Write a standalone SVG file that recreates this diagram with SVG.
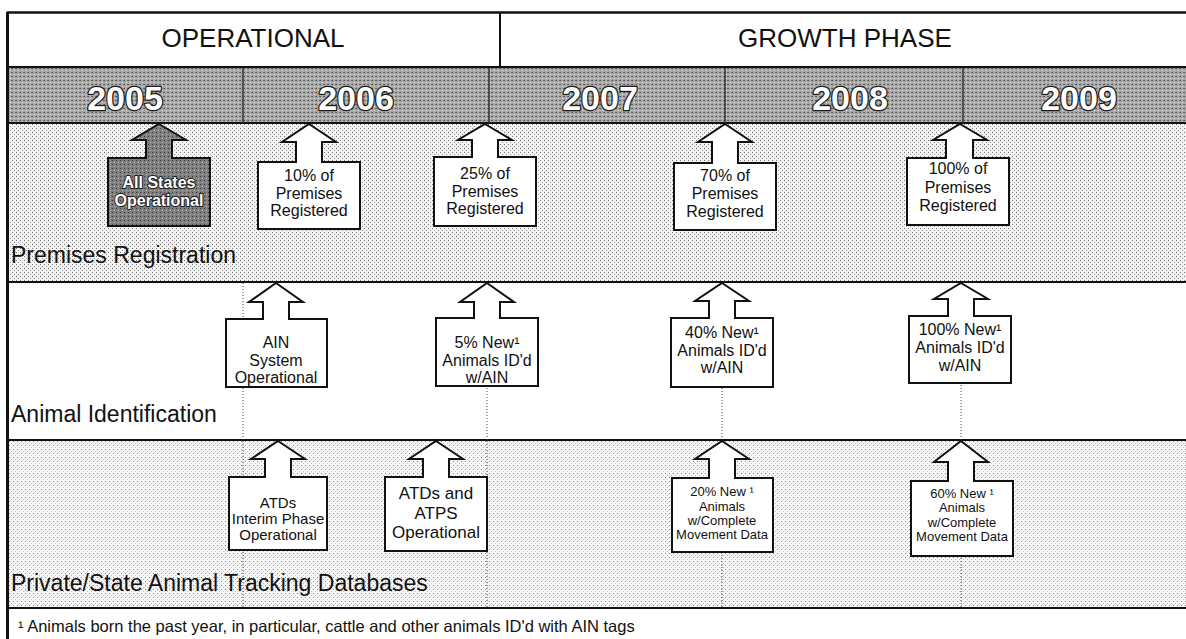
<svg xmlns="http://www.w3.org/2000/svg" width="1186" height="639" viewBox="0 0 1186 639">
<defs>
<pattern id="dotsA" width="4" height="4" patternUnits="userSpaceOnUse"><rect width="4" height="4" fill="#f3f3f3"/><rect x="0" y="0" width="1" height="1" fill="#777"/><rect x="2" y="2" width="1" height="1" fill="#999"/></pattern>
<pattern id="dotsB" width="4" height="4" patternUnits="userSpaceOnUse"><rect width="4" height="4" fill="#f6f6f6"/><rect x="1" y="1" width="1" height="1" fill="#8a8a8a"/><rect x="3" y="3" width="1" height="1" fill="#c4c4c4"/></pattern>
<pattern id="band" width="4" height="4" patternUnits="userSpaceOnUse"><rect width="4" height="4" fill="#a8a8a8"/><rect x="0" y="0" width="1" height="1" fill="#555"/><rect x="2" y="2" width="1" height="1" fill="#e4e4e4"/><rect x="3" y="0" width="1" height="1" fill="#6a6a6a"/></pattern>
<pattern id="dark" width="4" height="4" patternUnits="userSpaceOnUse"><rect width="4" height="4" fill="#7f7f7f"/><rect x="0" y="0" width="1" height="1" fill="#3a3a3a"/><rect x="2" y="2" width="1" height="1" fill="#bdbdbd"/></pattern>
</defs>
<style>
.t{font-family:"Liberation Sans",Arial,sans-serif;fill:#111;text-anchor:middle}
.hdr{font-size:26px}
.yr{font-size:34px;font-weight:bold;fill:#fff;stroke:#1a1a1a;stroke-width:2.5px;paint-order:stroke;stroke-linejoin:round}
.lbl{font-family:"Liberation Sans",Arial,sans-serif;fill:#111;font-size:23px}
.b16{font-size:16px}
.b15{font-size:15px}
.b17{font-size:17px}
.b13{font-size:13px}
.co{fill:#fff;stroke:#111;stroke-width:2;stroke-linejoin:miter}
.inv{font-size:16px;font-weight:bold;fill:#fff;stroke:#222;stroke-width:2px;paint-order:stroke}
.guide{stroke:#444;stroke-width:1;stroke-dasharray:1 2;fill:none}
.frame{stroke:#111;fill:none}
</style>

<!-- backgrounds -->
<rect x="7" y="12" width="1179" height="55" fill="#fff"/>
<rect x="7" y="68" width="1179" height="55" fill="url(#band)"/>
<rect x="7" y="123" width="1179" height="159" fill="url(#dotsA)"/>
<rect x="7" y="282" width="1179" height="158" fill="#fff"/>
<rect x="7" y="440" width="1179" height="168" fill="url(#dotsB)"/>
<rect x="7" y="608" width="1179" height="31" fill="#fff"/>

<!-- frame lines -->
<g class="frame">
<line x1="7" y1="12.5" x2="1186" y2="12.5" stroke-width="2.5"/>
<line x1="7" y1="67" x2="1186" y2="67" stroke-width="2"/>
<line x1="7" y1="123" x2="1186" y2="123" stroke-width="2"/>
<line x1="7" y1="282" x2="1186" y2="282" stroke-width="2"/>
<line x1="7" y1="440" x2="1186" y2="440" stroke-width="2"/>
<line x1="7" y1="608" x2="1186" y2="608" stroke-width="2"/>
<line x1="7.5" y1="12" x2="7.5" y2="639" stroke-width="3"/>
<line x1="500" y1="12" x2="500" y2="67" stroke-width="2"/>
<g stroke="#333" stroke-width="1.5">
<line x1="243" y1="68" x2="243" y2="123"/>
<line x1="489" y1="68" x2="489" y2="123"/>
<line x1="725" y1="68" x2="725" y2="123"/>
<line x1="963" y1="68" x2="963" y2="123"/>
</g>
</g>

<!-- header -->
<g id="phase-operational"><text class="t hdr" x="253" y="47">OPERATIONAL</text></g>
<g id="phase-growth"><text class="t hdr" x="845" y="47">GROWTH PHASE</text></g>

<!-- years -->
<g id="years">
<text class="t yr" x="125" y="110">2005</text>
<text class="t yr" x="356" y="110">2006</text>
<text class="t yr" x="600" y="110">2007</text>
<text class="t yr" x="850" y="110">2008</text>
<text class="t yr" x="1079" y="110">2009</text>
</g>

<!-- guide lines -->
<g id="connectors">
<line class="guide" x1="243" y1="283" x2="243" y2="440"/>
<line class="guide" x1="487" y1="283" x2="487" y2="440"/>
<line class="guide" x1="722" y1="283" x2="722" y2="440"/>
<line class="guide" x1="961" y1="283" x2="961" y2="440"/>
<line class="guide" x1="243" y1="441" x2="243" y2="608"/>
<line class="guide" x1="487" y1="441" x2="487" y2="608"/>
<line class="guide" x1="722" y1="441" x2="722" y2="608"/>
<line class="guide" x1="961" y1="441" x2="961" y2="608"/>
</g>

<!-- row labels -->
<g id="row-premises"><text class="lbl" x="11" y="263">Premises Registration</text></g>
<g id="row-animal-id"><text class="lbl" x="11" y="422">Animal Identification</text></g>
<g id="row-tracking"><text class="lbl" x="11" y="591">Private/State Animal Tracking Databases</text></g>

<!-- Row 1 callouts -->
<g id="n-all-states">
<path class="co" style="fill:url(#dark)" d="M159,124 L186,140 L172,140 L172,158 L210,158 L210,226 L108,226 L108,158 L146,158 L146,140 L132,140 Z"/>
<text class="t inv" x="159" y="188">All States</text>
<text class="t inv" x="159" y="206">Operational</text>
</g>
<g id="n-prem-10">
<path class="co" d="M309,124 L336,142 L322,142 L322,162 L360,162 L360,229 L258,229 L258,162 L296,162 L296,142 L282,142 Z"/>
<text class="t b16" x="309" y="181">10% of</text>
<text class="t b16" x="309" y="199">Premises</text>
<text class="t b16" x="309" y="216">Registered</text>
</g>
<g id="n-prem-25">
<path class="co" d="M485,124 L512,140 L498,140 L498,157 L536,157 L536,226 L434,226 L434,157 L472,157 L472,140 L458,140 Z"/>
<text class="t b16" x="485" y="179">25% of</text>
<text class="t b16" x="485" y="196.5">Premises</text>
<text class="t b16" x="485" y="214">Registered</text>
</g>
<g id="n-prem-70">
<path class="co" d="M725,124 L752,142 L738,142 L738,163 L776,163 L776,230 L674,230 L674,163 L712,163 L712,142 L698,142 Z"/>
<text class="t b16" x="725" y="181">70% of</text>
<text class="t b16" x="725" y="199">Premises</text>
<text class="t b16" x="725" y="217">Registered</text>
</g>
<g id="n-prem-100">
<path class="co" d="M960,124 L987,140 L973,140 L973,158 L1009,158 L1009,225 L907,225 L907,158 L946,158 L946,140 L933,140 Z"/>
<text class="t b16" x="958" y="174">100% of</text>
<text class="t b16" x="958" y="192.5">Premises</text>
<text class="t b16" x="958" y="211">Registered</text>
</g>

<!-- Row 2 callouts -->
<g id="n-ain-system">
<path class="co" d="M276,283 L303,302 L289,302 L289,319 L327,319 L327,387 L226,387 L226,319 L263,319 L263,302 L249,302 Z"/>
<text class="t b16" x="276" y="348">AIN</text>
<text class="t b16" x="276" y="366">System</text>
<text class="t b16" x="276" y="383">Operational</text>
</g>
<g id="n-ain-5">
<path class="co" d="M487,283 L514,302 L500,302 L500,318 L538,318 L538,386 L436,386 L436,318 L474,318 L474,302 L460,302 Z"/>
<text class="t b16" x="487" y="348">5% New¹</text>
<text class="t b16" x="487" y="365.5">Animals ID'd</text>
<text class="t b16" x="487" y="383">w/AIN</text>
</g>
<g id="n-ain-40">
<path class="co" d="M722,283 L749,301 L735,301 L735,318 L773,318 L773,387 L671,387 L671,318 L709,318 L709,301 L695,301 Z"/>
<text class="t b16" x="722" y="338">40% New¹</text>
<text class="t b16" x="722" y="356">Animals ID'd</text>
<text class="t b16" x="722" y="373">w/AIN</text>
</g>
<g id="n-ain-100">
<path class="co" d="M961,283 L988,299 L974,299 L974,316 L1011,316 L1011,383 L909,383 L909,316 L948,316 L948,299 L934,299 Z"/>
<text class="t b16" x="960" y="335">100% New¹</text>
<text class="t b16" x="960" y="353">Animals ID'd</text>
<text class="t b16" x="960" y="371">w/AIN</text>
</g>

<!-- Row 3 callouts -->
<g id="n-atd-interim">
<path class="co" d="M278,441 L305,459 L291,459 L291,477 L327,477 L327,550 L229,550 L229,477 L265,477 L265,459 L251,459 Z"/>
<text class="t b15" x="278" y="508">ATDs</text>
<text class="t b15" x="278" y="524">Interim Phase</text>
<text class="t b15" x="278" y="540">Operational</text>
</g>
<g id="n-atd-atps">
<path class="co" d="M436,441 L463,459 L449,459 L449,477 L487,477 L487,551 L385,551 L385,477 L423,477 L423,459 L409,459 Z"/>
<text class="t b17" x="436" y="499">ATDs and</text>
<text class="t b17" x="436" y="518.5">ATPS</text>
<text class="t b17" x="436" y="538">Operational</text>
</g>
<g id="n-move-20">
<path class="co" d="M722,441 L749,459 L735,459 L735,478 L773,478 L773,552 L672,552 L672,478 L709,478 L709,459 L695,459 Z"/>
<text class="t b13" x="722" y="496">20% New ¹</text>
<text class="t b13" x="722" y="511">Animals</text>
<text class="t b13" x="722" y="525">w/Complete</text>
<text class="t b13" x="722" y="539">Movement Data</text>
</g>
<g id="n-move-60">
<path class="co" d="M961,441 L988,462 L974,462 L974,481 L1013,481 L1013,556 L911,556 L911,481 L948,481 L948,462 L934,462 Z"/>
<text class="t b13" x="962" y="498">60% New ¹</text>
<text class="t b13" x="962" y="512">Animals</text>
<text class="t b13" x="962" y="527">w/Complete</text>
<text class="t b13" x="962" y="541">Movement Data</text>
</g>

<!-- footnote -->
<g id="footnote">
<text class="lbl" x="18" y="632" style="font-size:16.5px">¹ Animals born the past year, in particular, cattle and other animals ID'd with AIN tags</text>
</g>
</svg>
